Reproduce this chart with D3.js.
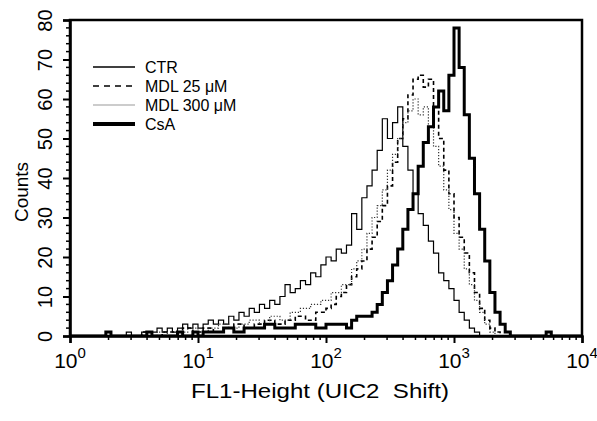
<!DOCTYPE html>
<html><head><meta charset="utf-8">
<script src="https://cdn.jsdelivr.net/npm/d3@7"></script>
<style>body{margin:0;background:#fff}svg{display:block}text{font-family:Arial,"Liberation Sans",sans-serif}</style>
</head><body>
<script>
// log10(FL1) channel positions and counts for each series
const ctrLog = [0.00,0.40,0.44,0.48,0.56,0.60,0.64,0.68,0.72,0.76,0.80,0.84,0.88,0.92,0.96,1.00,1.04,1.08,1.12,1.16,1.20,1.24,1.28,1.32,1.36,1.40,1.44,1.48,1.52,1.56,1.60,1.64,1.68,1.72,1.76,1.80,1.84,1.88,1.92,1.96,2.00,2.04,2.08,2.12,2.16,2.20,2.24,2.28,2.32,2.36,2.40,2.44,2.48,2.52,2.56,2.60,2.64,2.68,2.72,2.76,2.80,2.84,2.88,2.92,2.96,3.00,3.04,3.08,3.12,3.16,3.20,4.00];
const ctrCounts = [0,0,1,0,1,0,1,2,1,2,1,2,3,2,3,2,3,4,3,4,3,5,4,6,5,7,6,8,7,9,8,10,13,11,12,14,13,16,15,18,20,19,22,21,23,31,27,35,38,42,47,55,50,54,58,48,42,36,31,28,24,21,16,14,12,9,6,4,2,1,0,0];

const mdl25Log = [0.00,0.50,0.56,0.64,0.72,0.80,0.88,0.96,1.04,1.12,1.20,1.28,1.36,1.44,1.52,1.60,1.68,1.76,1.84,1.92,2.00,2.04,2.08,2.12,2.16,2.20,2.24,2.28,2.32,2.36,2.40,2.44,2.48,2.52,2.56,2.60,2.64,2.68,2.72,2.76,2.80,2.84,2.88,2.92,2.96,3.00,3.04,3.08,3.12,3.16,3.20,3.24,3.28,3.32,3.36,4.00];
const mdl25Counts = [0,0,1,0,1,1,2,1,2,1,2,3,2,3,4,3,4,5,4,6,7,8,10,11,13,15,17,19,22,25,29,33,38,44,50,55,61,65,66,63,65,58,50,42,36,30,25,21,16,11,7,4,2,1,0,0];

const mdl300Log = [0.00,0.60,0.68,0.76,0.84,0.92,1.00,1.08,1.16,1.24,1.32,1.40,1.48,1.56,1.64,1.72,1.80,1.88,1.96,2.04,2.12,2.20,2.24,2.28,2.32,2.36,2.40,2.44,2.48,2.52,2.56,2.60,2.64,2.68,2.72,2.76,2.80,2.84,2.88,2.92,2.96,3.00,3.04,3.08,3.12,3.16,3.20,3.24,3.28,3.32,4.00];
const mdl300Counts = [0,0,1,0,1,2,1,2,3,2,3,4,3,5,4,6,7,8,9,11,13,17,19,22,26,30,33,37,42,46,50,54,57,60,56,58,53,48,43,37,32,26,22,17,13,9,6,3,1,0,0];

const csaLog = [0.00,0.24,0.28,0.32,0.56,0.60,0.64,0.80,0.84,0.88,0.96,1.00,1.04,1.12,1.20,1.28,1.36,1.44,1.52,1.60,1.68,1.76,1.84,1.92,2.00,2.08,2.16,2.20,2.24,2.28,2.32,2.36,2.40,2.44,2.48,2.52,2.56,2.60,2.64,2.68,2.72,2.76,2.80,2.84,2.88,2.92,2.96,3.00,3.04,3.08,3.12,3.16,3.20,3.24,3.28,3.32,3.36,3.40,3.44,3.68,3.72,3.76,4.00];
const csaCounts = [0,0,1,0,0,1,0,0,1,0,1,0,1,1,2,1,2,2,3,2,2,3,3,2,3,3,2,4,5,5,5,6,8,11,14,18,22,27,32,36,43,49,53,58,62,57,66,78,68,56,45,36,27,19,11,6,3,1,0,0,1,0,0];

const seriesNames = ["CTR","MDL 25 \u03bcM","MDL 300 \u03bcM","CsA"];
const yTicks = [0,10,20,30,40,50,60,70,80];
const xDecades = [0,1,2,3,4];

const W=597,H=421;
const m={l:70,t:20,r:582,b:336};
const svg=d3.select("body").append("svg").attr("width",W).attr("height",H);
const x=d3.scaleLog().domain([1,1e4]).range([m.l,m.r]);
const y=d3.scaleLinear().domain([0,80]).range([m.b,m.t]);

svg.append("clipPath").attr("id","clip").append("rect").attr("x",m.l).attr("y",m.t-2).attr("width",m.r-m.l).attr("height",m.b-m.t+2);

const series=[
 {name:seriesNames[0],lg:ctrLog,c:ctrCounts,stroke:"#000",w:1.2,dash:null},
 {name:seriesNames[1],lg:mdl25Log,c:mdl25Counts,stroke:"#000",w:1.6,dash:"4,3"},
 {name:seriesNames[2],lg:mdl300Log,c:mdl300Counts,stroke:"#333",w:1.2,dash:"1.2,1.8"},
 {name:seriesNames[3],lg:csaLog,c:csaCounts,stroke:"#000",w:3,dash:null}
];
const line=d3.line().x(d=>x(Math.pow(10,d[0]))).y(d=>y(d[1])).curve(d3.curveStepAfter);
const g=svg.append("g").attr("clip-path","url(#clip)");
series.forEach(s=>{
  const pts=s.lg.map((v,i)=>[v,s.c[i]]);
  g.append("path").attr("d",line(pts)).attr("fill","none").attr("stroke",s.stroke)
   .attr("stroke-width",s.w).attr("stroke-dasharray",s.dash).attr("stroke-linejoin","miter");
});

// frame
svg.append("rect").attr("x",m.l).attr("y",m.t).attr("width",m.r-m.l).attr("height",m.b-m.t)
 .attr("fill","none").attr("stroke","#000").attr("stroke-width",2.5);

// y axis
const yAx=d3.axisLeft(y).tickValues(yTicks).tickSize(7).tickFormat(d3.format("d"));
const yg=svg.append("g").attr("transform",`translate(${m.l},0)`).call(yAx);
yg.select(".domain").attr("stroke-width",2.5);
yg.selectAll(".tick line").attr("stroke-width",2);
yg.selectAll(".tick text").attr("font-size",20).attr("x",0).attr("y",0).attr("dy","0.35em")
  .attr("text-anchor","middle").attr("transform","translate(-25,0) rotate(-90)");
const yMinor=d3.range(0,81,2).filter(v=>v%10!==0);
svg.append("g").selectAll("line").data(yMinor).join("line")
 .attr("x1",m.l).attr("x2",m.l-4).attr("y1",d=>y(d)).attr("y2",d=>y(d)).attr("stroke","#000").attr("stroke-width",1.5);

// x axis
const xAx=d3.axisBottom(x).tickValues(xDecades.map(k=>Math.pow(10,k))).tickSize(7).tickFormat("");
const xg=svg.append("g").attr("transform",`translate(0,${m.b})`).call(xAx);
xg.select(".domain").attr("stroke-width",2.5);
xg.selectAll(".tick line").attr("stroke-width",2);
const xMinor=[];
xDecades.slice(0,4).forEach(k=>{for(let j=2;j<=9;j++)xMinor.push(j*Math.pow(10,k));});
svg.append("g").selectAll("line").data(xMinor).join("line")
 .attr("x1",d=>x(d)).attr("x2",d=>x(d)).attr("y1",m.b).attr("y2",m.b+4).attr("stroke","#000").attr("stroke-width",1.5);
const lab=svg.append("g").selectAll("text").data(xDecades).join("text")
 .attr("x",d=>x(Math.pow(10,d))).attr("y",368).attr("text-anchor","middle").attr("font-size",21);
lab.append("tspan").text("10");
lab.append("tspan").attr("dy",-10).attr("font-size",15).text(d=>d);

// axis titles
svg.append("text").attr("x",320).attr("y",398).attr("text-anchor","middle").attr("font-size",21)
  .attr("textLength",258).attr("lengthAdjust","spacingAndGlyphs").text("FL1-Height (UIC2\u00a0\u00a0Shift)");
svg.append("text").attr("transform","translate(28,192) rotate(-90)").attr("text-anchor","middle").attr("font-size",19).text("Counts");

// legend
const leg=svg.append("g");
const legY=[67,86,105,124];
series.forEach((s,i)=>{
  const legStroke = i===2 ? "#999" : "#000";
  leg.append("line").attr("x1",93).attr("x2",135).attr("y1",legY[i]).attr("y2",legY[i])
   .attr("stroke",legStroke).attr("stroke-width",i===3?4:(i===2?1:1.6)).attr("stroke-dasharray",i===1?"6,5":null);
  leg.append("text").attr("x",145).attr("y",legY[i]).attr("dy","0.36em").attr("font-size",16).text(s.name);
});
</script>
</body></html>
